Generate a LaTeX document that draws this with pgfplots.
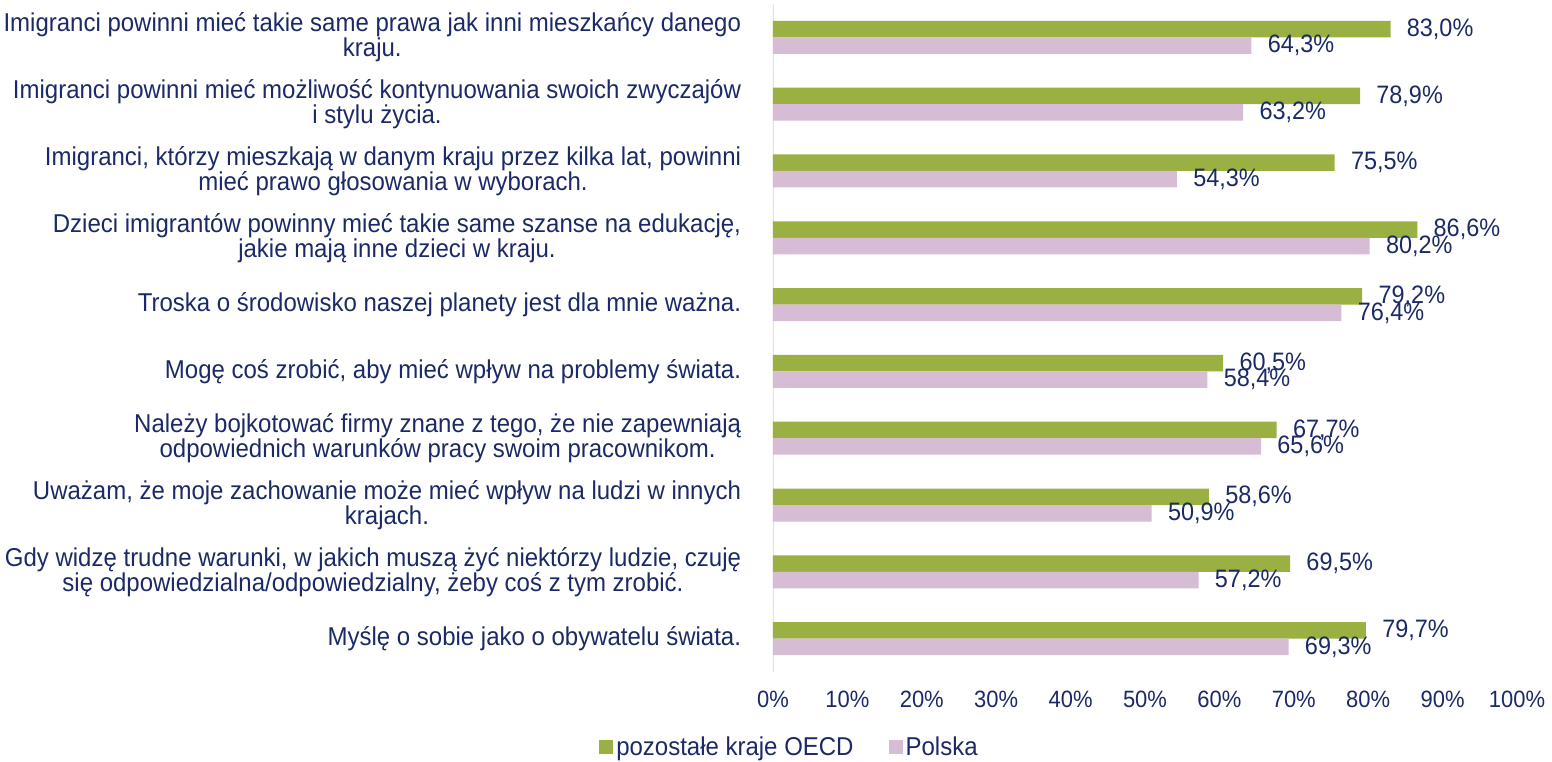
\documentclass[border=0pt]{standalone}
\usepackage{pgfplots}
\pgfplotsset{compat=1.18}
\usepackage{fontspec}
\setmainfont{Liberation Sans}[FakeStretch=0.93]
\definecolor{ngreen}{HTML}{9AB042}
\definecolor{npink}{HTML}{D6BCD4}
\definecolor{navy}{HTML}{1B2A66}
\definecolor{axline}{HTML}{E3E3D0}
\begin{document}
\begin{tikzpicture}
\begin{axis}[
  scale only axis,
  width=372pt, height=334pt,
  xbar,
  xmin=0, xmax=100,
  ymin=-0.5, ymax=9.5,
  axis line style={draw=none},
  tick style={draw=none},
  /pgf/number format/assume math mode=true,
  xtick={0,10,...,100},
  xticklabel={\pgfmathprintnumber{\tick}\%},
  xticklabel style={font=\fontsize{11.8}{13}\selectfont, text=navy, yshift=-6pt},
  ytick={0,...,9},
  yticklabels={
    {Myślę o sobie jako o obywatelu świata.},
    {Gdy widzę trudne warunki, w jakich muszą żyć niektórzy ludzie, czuję\\się odpowiedzialna/odpowiedzialny, żeby coś z tym zrobić.},
    {Uważam, że moje zachowanie może mieć wpływ na ludzi w innych\\krajach.},
    {Należy bojkotować firmy znane z tego, że nie zapewniają\\odpowiednich warunków pracy swoim pracownikom.},
    {Mogę coś zrobić, aby mieć wpływ na problemy świata.},
    {Troska o środowisko naszej planety jest dla mnie ważna.},
    {Dzieci imigrantów powinny mieć takie same szanse na edukację,\\jakie mają inne dzieci w kraju.},
    {Imigranci, którzy mieszkają w danym kraju przez kilka lat, powinni\\mieć prawo głosowania w wyborach.},
    {Imigranci powinni mieć możliwość kontynuowania swoich zwyczajów\\i stylu życia.},
    {Imigranci powinni mieć takie same prawa jak inni mieszkańcy danego\\kraju.}
  },
  yticklabel style={font=\fontsize{12.9}{12.5}\selectfont, text=navy, align=center, anchor=east, inner sep=0pt, xshift=-11.5pt},
  bar width=8.25pt,
  nodes near coords={\pgfmathprintnumber[fixed,fixed zerofill,precision=1,use comma]{\pgfplotspointmeta}\%},
  point meta=x,
  every node near coord/.append style={font=\fontsize{12.6}{13}\selectfont, text=navy, anchor=west, inner sep=0pt, xshift=8pt},
  legend style={draw=none, fill=none, at={(0.0228,-0.1138)}, anchor=center,
    legend columns=2, font=\fontsize{12.9}{13}\selectfont, text=navy,
    /tikz/every even column/.append style={column sep=16pt},
    nodes={inner sep=1.5pt}},
  legend image code/.code={\fill[#1] (0pt,-3pt) rectangle (7pt,4pt);},
]
\draw[axline, line width=1pt] (rel axis cs:0,0) -- (rel axis cs:0,1);
\addplot[fill=ngreen, draw=none, bar shift=4.125pt] coordinates {
 (79.7,0) (69.5,1) (58.6,2) (67.7,3) (60.5,4) (79.2,5) (86.6,6) (75.5,7) (78.9,8) (83.0,9)};
\addlegendentry{pozostałe kraje OECD}
\addplot[fill=npink, draw=none, bar shift=-4.125pt] coordinates {
 (69.3,0) (57.2,1) (50.9,2) (65.6,3) (58.4,4) (76.4,5) (80.2,6) (54.3,7) (63.2,8) (64.3,9)};
\addlegendentry{Polska}
\end{axis}
\pgfresetboundingbox
\path (current axis.south west) ++(-386.5pt,-44.5pt) coordinate (bbA);
\path (current axis.north east) ++(17.5pt,2pt) coordinate (bbB);
\path (bbA) rectangle (bbB);
\end{tikzpicture}
\end{document}
